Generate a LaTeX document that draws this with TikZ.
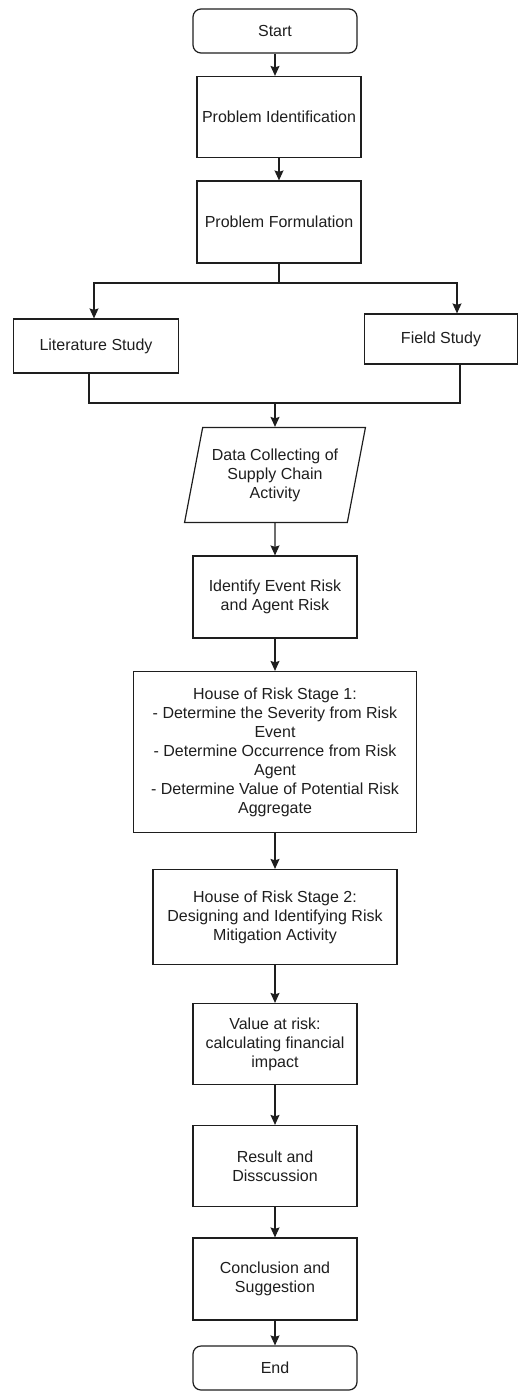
\documentclass[tikz,border=0pt]{standalone}
\usepackage{fontspec}
\setmainfont{Liberation Sans}
\usepackage{xcolor}
\definecolor{ink}{HTML}{1E1E1E}
\usepackage{tikz}
\usetikzlibrary{arrows.meta,positioning,calc,shapes.geometric}
\tikzset{
  >={Stealth[length=10pt,width=9pt,inset=1.5pt]},
  box/.style={draw=ink,line width=1.2pt,font=\fontsize{16}{19}\selectfont,align=center,text=ink,inner sep=2pt},
  term/.style={box,rounded corners=8pt,minimum width=164,minimum height=44},
  proc/.style={box,minimum width=164,minimum height=81},
  data/.style={box,trapezium,trapezium left angle=74,trapezium right angle=106,trapezium stretches=true,minimum width=181,minimum height=95},
  arr/.style={->,draw=ink,line width=1.2pt},
  wire/.style={draw=ink,line width=1.2pt},
}
\begin{document}
\begin{tikzpicture}[x=1pt,y=-1pt]
\useasboundingbox (0,0) rectangle (518,1394);
\node[term] (start) at (275,31) {Start};
\node[proc] (pident) at (279,117) {Problem Identification};
\node[proc,minimum height=82] (pform) at (279,222) {Problem Formulation};
\node[proc,minimum width=165,minimum height=54] (lit) at (96,346) {Literature Study};
\node[proc,minimum width=153,minimum height=50] (field) at (441,339) {Field Study};
\node[data] (collect) at (275,475) {Data Collecting of\\Supply Chain\\Activity};
\node[proc,minimum height=82] (ident) at (275,597) {Identify Event Risk\\and Agent Risk};
\node[proc,minimum width=283,minimum height=161] (hor1) at (275,752) {House of Risk Stage 1:\\- Determine the Severity from Risk\\Event\\- Determine Occurrence from Risk\\Agent\\- Determine Value of Potential Risk\\Aggregate};
\node[proc,minimum width=244,minimum height=95] (hor2) at (275,917) {House of Risk Stage 2:\\Designing and Identifying Risk\\Mitigation Activity};
\node[proc] (var) at (275,1044) {Value at risk:\\calculating financial\\impact};
\node[proc] (result) at (275,1166) {Result and\\Disscussion};
\node[proc,minimum height=82] (concl) at (275,1279) {Conclusion and\\Suggestion};
\node[term] (end) at (275,1368) {End};

\coordinate (split) at (279,283);
\coordinate (join) at (275,403);

\draw[arr] (start.south) -- (start.south |- pident.north);
\draw[arr] (pident) -- (pform);
\draw[wire] (pform.south) -- (split);
\draw[arr] (split) -| ([xshift=-2]lit.north);
\draw[arr] (split) -| ([xshift=16]field.north);
\draw[wire] ([xshift=-7]lit.south) |- (join) -| ([xshift=19]field.south);
\draw[arr] (join) -- (collect);
\draw[arr] (collect) -- (ident);
\draw[arr] (ident) -- (hor1);
\draw[arr] (hor1) -- (hor2);
\draw[arr] (hor2) -- (var);
\draw[arr] (var) -- (result);
\draw[arr] (result) -- (concl);
\draw[arr] (concl) -- (end);
\end{tikzpicture}
\end{document}
